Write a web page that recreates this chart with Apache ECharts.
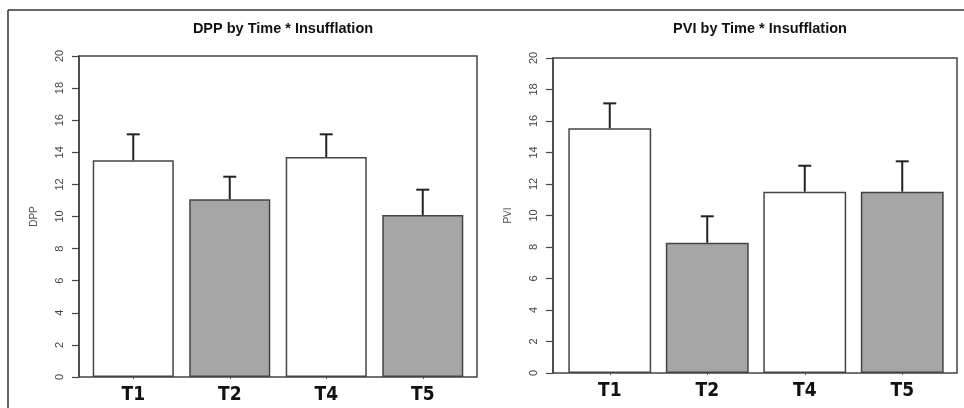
<!DOCTYPE html>
<html>
<head>
<meta charset="utf-8">
<script src="https://cdn.jsdelivr.net/npm/echarts@6/dist/echarts.min.js"></script>
<style>
html,body{margin:0;padding:0;background:#fff;}
#chart{width:964px;height:408px;}
</style>
</head>
<body>
<div id="chart"></div>
<script>
// ---- data ----
const categories = ['T1', 'T2', 'T4', 'T5'];
const dppMean  = [13.5, 11.07, 13.71, 10.09];
const dppUpper = [15.12, 12.48, 15.12, 11.67];
const pviMean  = [15.54, 8.27, 11.51, 11.51];
const pviUpper = [17.12, 9.95, 13.16, 13.44];
const barFills = ['#ffffff', '#a6a6a6', '#ffffff', '#a6a6a6'];
const yMin = 0, yMax = 20, yStep = 2;
const titles = ['DPP by Time * Insufflation', 'PVI by Time * Insufflation'];
const yNames = ['DPP', 'PVI'];

const chart = echarts.init(document.getElementById('chart'), null, {renderer: 'canvas'});

const axisColor = '#444';
const labelColor = '#444';

function frameY(gridIndex, name) {
  return {
    gridIndex: gridIndex, type: 'value', min: yMin, max: yMax, interval: yStep,
    name: name, nameLocation: 'middle', nameGap: 40, nameRotate: 90,
    nameTextStyle: {color: '#555', fontSize: 10, fontFamily: 'Liberation Sans, Arial, sans-serif'},
    axisLine: {show: true, lineStyle: {color: axisColor, width: 1.5}},
    axisTick: {show: true, inside: false, length: 7, lineStyle: {color: axisColor, width: 1.2}},
    axisLabel: {show: true, rotate: 90, margin: 14, color: labelColor, fontSize: 11,
      fontFamily: 'Liberation Sans, Arial, sans-serif'},
    splitLine: {show: false}
  };
}
function hiddenY(gridIndex) {
  return {gridIndex: gridIndex, type: 'value', min: yMin, max: yMax, interval: yStep, show: false};
}
function hiddenX(gridIndex) {
  return {gridIndex: gridIndex, type: 'value', min: 0, max: 1, show: false};
}
function catX(gridIndex) {
  return {
    gridIndex: gridIndex, type: 'category', data: categories,
    axisLine: {show: false},
    axisTick: {show: true, alignWithLabel: true, length: 2, lineStyle: {color: '#555'}},
    axisLabel: {show: true, margin: 9, color: '#111', fontSize: 19, fontWeight: 'bold',
      fontFamily: 'DejaVu Sans Condensed, Liberation Sans Narrow, Arial Narrow, Liberation Sans, sans-serif'},
    splitLine: {show: false}
  };
}
function barSeries(idx, means, width) {
  return {
    type: 'bar', xAxisIndex: idx, yAxisIndex: idx, barWidth: width,
    data: means.map((v, i) => ({value: v, itemStyle: {color: barFills[i]}})),
    itemStyle: {borderColor: '#444', borderWidth: 1.5},
    silent: true, z: 2
  };
}
function errSeries(idx, means, uppers) {
  return {
    type: 'custom', xAxisIndex: idx, yAxisIndex: idx, z: 3, silent: true,
    data: means.map((m, i) => [i, m, uppers[i]]),
    renderItem: function (params, api) {
      const lo = api.coord([api.value(0), api.value(1)]);
      const hi = api.coord([api.value(0), api.value(2)]);
      const hw = 6.5;
      const st = {stroke: '#222', lineWidth: 2};
      return {type: 'group', children: [
        {type: 'line', shape: {x1: lo[0], y1: lo[1], x2: hi[0], y2: hi[1]}, style: st},
        {type: 'line', shape: {x1: hi[0] - hw, y1: hi[1], x2: hi[0] + hw, y2: hi[1]}, style: st}
      ]};
    }
  };
}

const option = {
  backgroundColor: '#ffffff',
  animation: false,
  title: [
    {text: titles[0], left: 278, top: 16, textAlign: 'center',
      textStyle: {fontSize: 14.5, fontWeight: 'bold', color: '#111', fontFamily: 'Liberation Sans, Arial, sans-serif'}},
    {text: titles[1], left: 755, top: 16, textAlign: 'center',
      textStyle: {fontSize: 14.5, fontWeight: 'bold', color: '#111', fontFamily: 'Liberation Sans, Arial, sans-serif'}}
  ],
  grid: [
    {left: 79, top: 56, width: 398, height: 321, show: true, borderColor: axisColor, borderWidth: 1.5, backgroundColor: 'transparent'},
    {left: 85, top: 56, width: 386, height: 321},
    {left: 553, top: 58, width: 404, height: 315, show: true, borderColor: axisColor, borderWidth: 1.5, backgroundColor: 'transparent'},
    {left: 561, top: 58, width: 390, height: 315}
  ],
  xAxis: [hiddenX(0), catX(1), hiddenX(2), catX(3)],
  yAxis: [frameY(0, yNames[0]), hiddenY(1), frameY(2, yNames[1]), hiddenY(3)],
  graphic: [
    {type: 'line', silent: true, shape: {x1: 8, y1: 10, x2: 8, y2: 408}, style: {stroke: '#333', lineWidth: 1.5}},
    {type: 'line', silent: true, shape: {x1: 8, y1: 10, x2: 964, y2: 10}, style: {stroke: '#333', lineWidth: 1.5}}
  ],
  series: [
    barSeries(1, dppMean, '84%'),
    errSeries(1, dppMean, dppUpper),
    barSeries(3, pviMean, '85%'),
    errSeries(3, pviMean, pviUpper)
  ]
};
chart.setOption(option);
</script>
</body>
</html>
